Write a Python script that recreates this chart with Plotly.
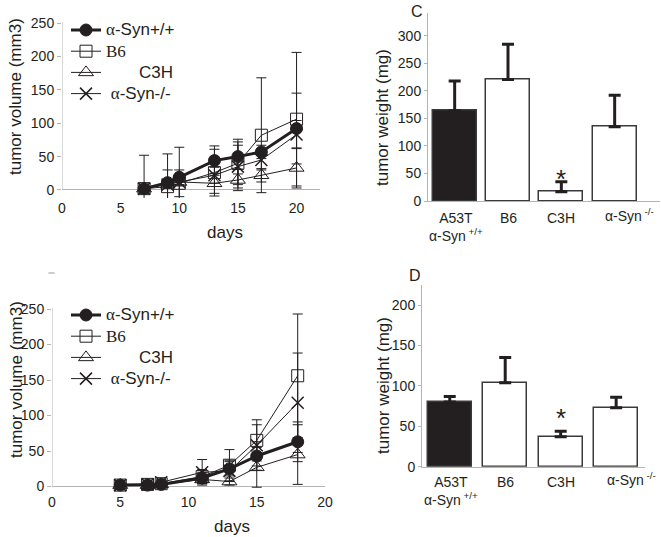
import plotly.graph_objects as go

W, H = 661, 537

# ---------------- data ----------------
# Top-left panel: tumor volume (mm3) vs days
days_a = [7, 9, 10, 13, 15, 17, 20]
a_syn_wt = [2, 11, 19, 44, 50, 57, 92]
a_syn_wt_err = [50, 43, 45, 22, 26, 10, 53]
a_b6 = [2, 5, 10, 26, 40, 82, 106]
a_b6_err = [3, 25, 20, 35, 32, 86, 100]
a_c3h = [2, 8, 12, 10, 15, 22, 33]
a_c3h_err = [2, 3, 4, 15, 16, 10, 30]
a_syn_ko = [2, 8, 12, 22, 35, 45, 83]
a_syn_ko_err = [3, 5, 6, 12, 32, 15, 21]

# Bottom-left panel: tumor volume (mm3) vs days
days_b = [5, 7, 8, 11, 13, 15, 18]
b_syn_wt = [2, 2, 3, 12, 25, 43, 63]
b_syn_wt_err = [2, 2, 3, 8, 10, 20, 28]
b_b6 = [2, 3, 4, 14, 30, 65, 156]
b_b6_err = [2, 3, 4, 10, 22, 29, 87]
b_c3h = [2, 2, 3, 10, 7, 27, 45]
b_c3h_err = [1, 1, 2, 5, 5, 28, 42]
b_syn_ko = [2, 3, 6, 20, 22, 58, 118]
b_syn_ko_err = [2, 2, 4, 18, 15, 29, 70]

x_ticks_a = [0, 5, 10, 15, 20]
x_ticks_b = [0, 5, 10, 15, 20]
y_ticks_vol = [0, 50, 100, 150, 200, 250]

# Right panels: tumor weight (mg)
groups = ["A53T", "B6", "C3H", "KO"]
group_labels = ["A53T<br>α-Syn<sup> +/+</sup>", "B6", "C3H", "α-Syn<sup> -/-</sup>"]
c_weight = [164, 221, 17, 135]
c_err = [54, 64, 18, 57]
d_weight = [80, 104, 37, 73]
d_err = [7, 31, 7, 13]
y_ticks_c = [0, 50, 100, 150, 200, 250, 300]
y_ticks_d = [0, 50, 100, 150, 200]

# ---------------- styling helpers ----------------
INK = "#231f20"
AXC = "#b4b4b4"
SANS = "Liberation Sans"
SERIF = "Liberation Serif"


def px_x(p):
    return p / W


def px_y(p):
    return 1 - p / H


def leg_name(i):
    big = "font-size:17px"
    if i == 0:
        return (f"<span style='{big};font-family:{SERIF}'>α</span>"
                f"<span style='{big}'>-Syn+/+</span>")
    if i == 1:
        return f"<span style='{big};font-family:{SERIF}'>B6</span>"
    if i == 2:
        return f"<span style='{big}'>" + "\u00a0" * 7 + "C3H</span>"
    return (f"<span style='{big}'>\u00a0</span>"
            f"<span style='{big};font-family:{SERIF}'>α</span>"
            f"<span style='{big}'>-Syn-/-</span>")


styles = [
    dict(symbol="circle", size=12, lw=3, mline=1),
    dict(symbol="square-open", size=12, lw=1, mline=1),
    dict(symbol="triangle-up-open", size=13, lw=1, mline=1),
    dict(symbol="x-thin-open", size=12, lw=1, mline=1.5),
]

fig = go.Figure()

panels = [
    ("x", "y", "legend", days_a,
     [a_syn_wt, a_b6, a_c3h, a_syn_ko],
     [a_syn_wt_err, a_b6_err, a_c3h_err, a_syn_ko_err]),
    ("x2", "y2", "legend2", days_b,
     [b_syn_wt, b_b6, b_c3h, b_syn_ko],
     [b_syn_wt_err, b_b6_err, b_c3h_err, b_syn_ko_err]),
]

for xa, ya, leg, days, vals, errs in panels:
    for i in [3, 2, 1, 0]:
        st = styles[i]
        fig.add_trace(go.Scatter(
            x=days, y=vals[i], xaxis=xa, yaxis=ya,
            mode="lines+markers", name=leg_name(i), legend=leg,
            legendrank=i + 1,
            line=dict(color=INK, width=st["lw"]),
            marker=dict(symbol=st["symbol"], size=st["size"], color=INK,
                        line=dict(color=INK, width=st["mline"])),
            error_y=dict(type="data", array=errs[i], symmetric=True,
                         color=INK, thickness=1, width=5),
            cliponaxis=False,
        ))

bar_panels = [
    ("x3", "y3", c_weight, c_err, 0.825),
    ("x4", "y4", d_weight, d_err, 0.79),
]
for xa, ya, vals, errs, bw in bar_panels:
    fig.add_trace(go.Bar(
        x=groups, y=vals, xaxis=xa, yaxis=ya, width=bw, showlegend=False,
        marker=dict(color=[INK, "white", "white", "white"],
                    line=dict(color="#3a3a3a", width=1.5)),
        error_y=dict(type="data", array=errs, arrayminus=[0] * 4,
                     symmetric=False, color=INK, thickness=3, width=6),
    ))

tickfont = dict(family=SANS, size=14, color=INK)

line_x = dict(showgrid=False, zeroline=False, showline=False, ticks="",
              tickfont=tickfont, fixedrange=True)
line_y = dict(showgrid=False, showline=False, ticks="outside", ticklen=4,
              tickcolor=AXC, tickfont=tickfont, zeroline=True,
              zerolinecolor=AXC, zerolinewidth=1, tickvals=y_ticks_vol)
bar_x = dict(showgrid=False, zeroline=False, showline=True, linecolor=AXC,
             linewidth=1, ticks="", showticklabels=False,
             categoryorder="array", categoryarray=groups)
bar_y = dict(showgrid=False, zeroline=False, showline=True, linecolor=AXC,
             linewidth=1, ticks="outside", ticklen=3, tickcolor=AXC,
             tickfont=tickfont)

fig.update_layout(
    xaxis=dict(line_x, domain=[px_x(62), px_x(320)], range=[0, 22],
               tickvals=x_ticks_a, anchor="y"),
    yaxis=dict(line_y, domain=[px_y(198), px_y(21.7)], range=[-12, 252],
               anchor="x"),
    xaxis2=dict(line_x, domain=[px_x(52), px_x(325)], range=[0, 20],
                tickvals=x_ticks_b, anchor="y2"),
    yaxis2=dict(line_y, domain=[px_y(492.2), px_y(307.6)], range=[-8, 252],
                anchor="x2"),
    xaxis3=dict(bar_x, domain=[px_x(428), px_x(660)], range=[-0.5, 3.85],
                anchor="y3"),
    yaxis3=dict(bar_y, domain=[px_y(201), px_y(13.4)], range=[0, 341],
                tickvals=y_ticks_c, anchor="x3"),
    xaxis4=dict(bar_x, domain=[px_x(422), px_x(645)], range=[-0.5, 3.52],
                anchor="y4"),
    yaxis4=dict(bar_y, domain=[px_y(466.7), px_y(284.9)], range=[0, 225],
                tickvals=y_ticks_d, anchor="x4"),
)

legend_common = dict(xanchor="left", yanchor="top", bgcolor="rgba(0,0,0,0)",
                     borderwidth=0, tracegroupgap=0, itemwidth=30,
                     font=dict(family=SANS, size=14, color=INK),
                     itemclick=False, itemdoubleclick=False)
fig.update_layout(
    legend=dict(legend_common, x=px_x(66), y=px_y(14.4)),
    legend2=dict(legend_common, x=px_x(66), y=px_y(299.4)),
)

# vertical axis lines for the line panels
fig.add_shape(type="line", xref="x", yref="y", x0=0, x1=0, y0=0, y1=252,
              line=dict(color=AXC, width=1))
fig.add_shape(type="line", xref="x2", yref="y2", x0=0, x1=0, y0=0, y1=252,
              line=dict(color=AXC, width=1))
# small stray dash in the original
fig.add_shape(type="line", xref="paper", yref="paper",
              x0=px_x(48.5), x1=px_x(54.5), y0=px_y(273), y1=px_y(273),
              line=dict(color="#999999", width=1))

ann = []
title_font = dict(family=SANS, size=17, color=INK)


def pann(text, x, y, font, angle=0):
    return dict(text=text, x=px_x(x), y=px_y(y), textangle=angle, font=font,
                showarrow=False, xref="paper", yref="paper",
                xanchor="center", yanchor="middle")


ann.append(pann("tumor volume (mm3)", 16, 97, title_font, -90))
ann.append(pann("tumor volume (mm3)", 16, 380, title_font, -90))
ann.append(pann("tumor weight (mg)", 382, 118, title_font, -90))
ann.append(pann("tumor weight (mg)", 383, 386, title_font, -90))
ann.append(pann("days", 225, 233, title_font))
ann.append(pann("days", 232, 526, title_font))
letter_font = dict(family=SANS, size=16, color=INK)
ann.append(pann("C", 417, 11, letter_font))
ann.append(pann("D", 415, 275, letter_font))

cat_font = dict(family=SANS, size=14, color=INK)
for xa, top in [("x3", 208), ("x4", 472)]:
    for g, lab in zip(groups, group_labels):
        shift = 15 if g == "KO" else (1 if g == "A53T" else 0)
        ytop = top - 4 if g == "KO" else top
        ann.append(dict(text=lab, x=g, xref=xa, y=px_y(ytop), yref="paper",
                        xanchor="center", yanchor="top", xshift=shift,
                        showarrow=False, font=cat_font))

star_font = dict(family=SANS, size=26, color=INK)
ann.append(dict(text="*", x="C3H", xref="x3", y=47, yref="y3", yshift=-4,
                xanchor="center", yanchor="middle", showarrow=False,
                font=star_font))
ann.append(dict(text="*", x="C3H", xref="x4", y=65, yref="y4", yshift=-4,
                xanchor="center", yanchor="middle", showarrow=False,
                font=star_font))

fig.update_layout(
    annotations=ann,
    width=W, height=H,
    autosize=False,
    margin=dict(l=0, r=0, t=0, b=0, pad=0, autoexpand=False),
    paper_bgcolor="white", plot_bgcolor="white",
    font=dict(family=SANS, color=INK),
    bargap=0,
)

fig.write_html(
    "out.html",
    config={"displayModeBar": False},
    post_script="document.body.style.margin='0px';"
                "document.body.style.overflow='hidden';",
)
